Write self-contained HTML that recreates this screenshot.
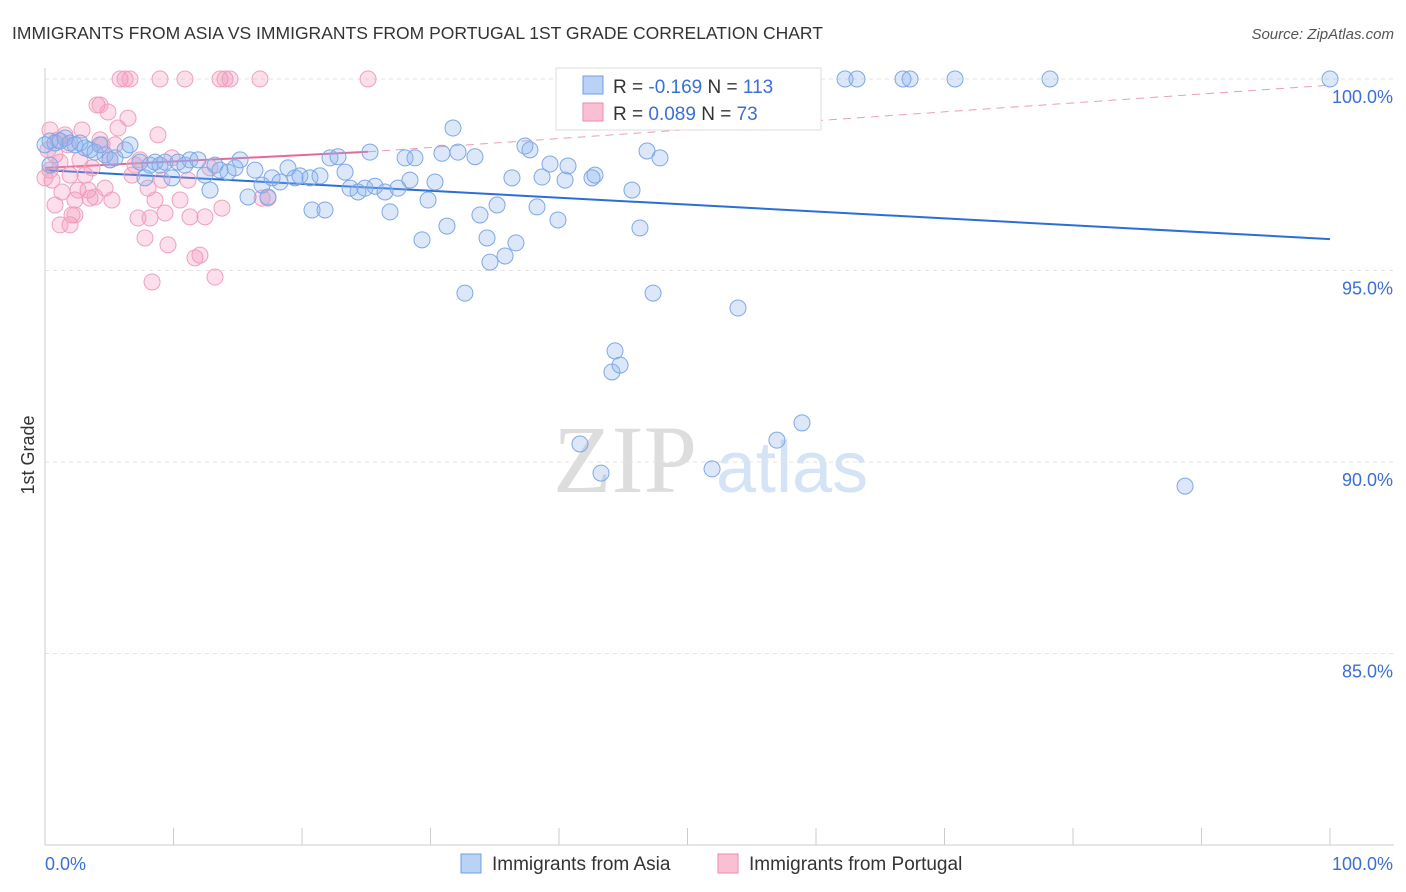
<!DOCTYPE html>
<html><head><meta charset="utf-8">
<style>
body{margin:0;background:#fff;font-family:"Liberation Sans",sans-serif;}
svg{display:block}
</style></head>
<body>
<svg id="chart" width="1406" height="892" xmlns="http://www.w3.org/2000/svg">
<text x="12" y="39" font-size="17.5" fill="#333">IMMIGRANTS FROM ASIA VS IMMIGRANTS FROM PORTUGAL 1ST GRADE CORRELATION CHART</text>
<text x="1394" y="39" font-size="15" fill="#555" font-style="italic" text-anchor="end">Source: ZipAtlas.com</text>
<text x="0" y="0" font-size="18" fill="#333" transform="translate(34,455) rotate(-90)" text-anchor="middle">1st Grade</text>
<g><text x="553" y="492" font-size="96" fill="#ddd" font-family="Liberation Serif,serif">ZIP</text><text x="716" y="492" font-size="72" fill="#d4e3f5">atlas</text></g>
<g id="grid"></g><g id="axes"></g><g id="lines"></g><g id="pts"></g>
<g>
<rect x="556" y="68" width="265" height="62" fill="#fff" stroke="#ddd"/>
<rect x="583" y="76" width="20" height="18" fill="#b9d2f5" stroke="#6f9fe0"/>
<rect x="583" y="103" width="20" height="18" fill="#f9c0d3" stroke="#ea8bab"/>
<text x="613" y="93" font-size="19" fill="#333">R = <tspan fill="#3a6fd8">-0.169</tspan>   N = <tspan fill="#3a6fd8">113</tspan></text>
<text x="613" y="120" font-size="19" fill="#333">R =  <tspan fill="#3a6fd8">0.089</tspan>   N =  <tspan fill="#3a6fd8">73</tspan></text>
</g>
<g>
<rect x="461" y="854" width="20" height="19" fill="#b9d2f5" stroke="#6f9fe0"/>
<text x="492" y="870" font-size="19" fill="#333">Immigrants from Asia</text>
<rect x="718" y="854" width="20" height="19" fill="#f9c0d3" stroke="#ea8bab"/>
<text x="749" y="870" font-size="19" fill="#333">Immigrants from Portugal</text>
</g>
</svg>
<script>
const asiaX=[0.39,0.78,1.17,1.56,1.95,2.33,2.72,3.11,3.5,3.89,4.28,4.67,5.06,5.45,6.23,6.61,7.39,7.78,8.17,8.56,8.95,9.34,9.88,10.35,10.89,11.28,11.91,12.45,12.84,13.23,13.62,14.24,14.79,15.18,15.8,16.34,16.89,17.35,17.67,18.29,18.91,19.46,19.84,20.62,20.78,21.4,21.79,22.18,22.8,23.35,23.74,24.36,24.9,25.29,25.68,26.46,26.85,27.47,28.02,28.4,28.79,29.34,29.81,30.35,30.89,31.28,31.75,32.14,32.68,33.46,33.85,34.4,34.63,35.18,35.8,36.34,36.65,37.35,37.74,38.29,38.68,39.3,39.92,40.47,40.7,41.63,42.57,42.8,43.27,44.12,44.36,44.75,45.68,46.3,46.85,47.32,47.86,48.02,51.91,52.39,52.92,53.54,53.93,56.96,58.91,62.26,63.19,66.77,67.32,70.82,78.21,88.72,100,0.39,0];
const asiaY=[98.38,98.33,98.38,98.46,98.33,98.28,98.33,98.2,98.15,98.09,98.28,98.02,97.89,97.94,98.15,98.28,97.83,97.42,97.75,97.83,97.75,97.83,97.42,97.83,97.75,97.89,97.89,97.49,97.1,97.75,97.62,97.57,97.68,97.89,96.92,97.62,97.23,96.92,97.42,97.31,97.68,97.42,97.47,97.42,96.58,97.47,96.58,97.94,97.97,97.57,97.15,97.05,97.15,98.09,97.2,97.05,96.53,97.15,97.94,97.36,97.94,95.8,96.84,97.31,98.06,96.16,98.72,98.09,94.41,97.97,96.45,95.85,95.22,96.71,95.38,97.42,95.72,98.25,98.15,96.66,97.44,97.78,96.32,97.36,97.73,90.47,97.42,97.49,89.71,92.35,92.9,92.53,97.1,96.11,98.12,94.41,97.94,100,89.82,99.56,100,100,94.02,90.57,91.02,100,100,100,100,100,100,89.37,100,97.75,98.28];
const portX=[0.23,0.39,0.54,0.78,1.01,1.17,1.32,1.56,1.79,1.95,1.95,2.1,2.33,2.57,2.72,2.88,3.11,3.35,3.5,3.66,3.89,4.05,4.28,4.44,4.67,4.9,5.06,5.21,5.45,5.68,5.84,6.23,6.46,6.61,6.77,7.0,7.24,7.39,7.78,8.02,8.17,8.33,8.56,8.79,8.95,9.1,9.34,9.57,9.88,10.51,10.89,11.13,11.28,11.67,12.06,12.45,12.84,13.23,13.62,13.77,14.01,14.4,16.73,16.89,17.35,25.14,0.39,0.78,1.17,0,2.33,4.28];
const portY=[98.15,97.62,97.36,98.02,98.41,97.83,97.05,98.54,98.28,97.49,96.19,96.45,96.84,97.1,97.89,98.67,97.49,97.1,96.89,97.68,96.92,99.32,98.41,98.28,97.15,99.14,97.89,96.84,98.28,98.72,100,100,98.98,100,97.49,97.75,96.37,97.89,95.85,97.15,96.37,94.7,96.84,98.54,100,97.36,96.5,95.67,97.94,96.84,100,97.36,96.4,95.33,95.4,96.4,97.68,94.83,100,96.63,100,100,100,96.89,96.89,100,98.67,96.71,96.19,97.42,96.45,99.32];
const asiaTrend=[97.62,95.82];
const portTrend=[97.68,98.1,99.84];
const portSolidEnd=25.14;
const yTicks=[100,95,90,85];
const yTickLabels=["100.0%","95.0%","90.0%","85.0%"];
const xTicks=[0,10,20,30,40,50,60,70,80,90,100];
const NS="http://www.w3.org/2000/svg";
const X=v=>45+v*12.85, Y=v=>79+(100-v)*38.3;
function mk(tag,attrs,parent){const e=document.createElementNS(NS,tag);for(const k in attrs)e.setAttribute(k,attrs[k]);document.getElementById(parent).appendChild(e);return e;}
yTicks.forEach((t,i)=>{
 const g=mk('line',{x1:45,x2:1394,y1:Y(t),y2:Y(t),stroke:'#e3e3e3','stroke-dasharray':'4,4'},'grid');
 
 
 const l=mk('text',{x:1393,y:Y(t)+24,'text-anchor':'end','font-size':18,fill:'#3a6fd8'},'axes');
 l.textContent=yTickLabels[i];
 
 
});
const ax=mk('line',{x1:45,x2:45,y1:68,y2:845,stroke:'#ccc'},'axes');


const bx=mk('line',{x1:45,x2:1394,y1:845,y2:845,stroke:'#ccc'},'axes');


xTicks.forEach(t=>{const e=mk('line',{x1:X(t),x2:X(t),y1:828,y2:845,stroke:'#ccc'},'axes');
 
 });
const xl0=mk('text',{x:45,y:870,'font-size':18,fill:'#3a6fd8'},'axes');xl0.textContent=xTicks[0].toFixed(1)+'%';


const xl1=mk('text',{x:1393,y:870,'font-size':18,fill:'#3a6fd8','text-anchor':'end'},'axes');xl1.textContent=xTicks[xTicks.length-1].toFixed(1)+'%';


portX.forEach((x,i)=>{const c=mk('circle',{cx:X(x),cy:Y(portY[i]),r:8,fill:'rgba(244,150,185,0.3)',stroke:'#f0a0bd','stroke-width':1},'pts');
 
 });
asiaX.forEach((x,i)=>{const c=mk('circle',{cx:X(x),cy:Y(asiaY[i]),r:8,fill:'rgba(140,180,240,0.3)',stroke:'#7ea8e6','stroke-width':1},'pts');
 
 });
const a=mk('line',{x1:X(0),y1:Y(asiaTrend[0]),x2:X(100),y2:Y(asiaTrend[1]),stroke:'#2a6fd6','stroke-width':2},'lines');


const p=mk('line',{x1:X(0),y1:Y(portTrend[0]),x2:X(portSolidEnd),y2:Y(portTrend[1]),stroke:'#e8679a','stroke-width':2},'lines');


const pd=mk('line',{x1:X(portSolidEnd),y1:Y(portTrend[1]),x2:X(100),y2:Y(portTrend[2]),stroke:'#ef9ab9','stroke-width':1,'stroke-dasharray':'8,6'},'lines');


</script>
</body></html>
